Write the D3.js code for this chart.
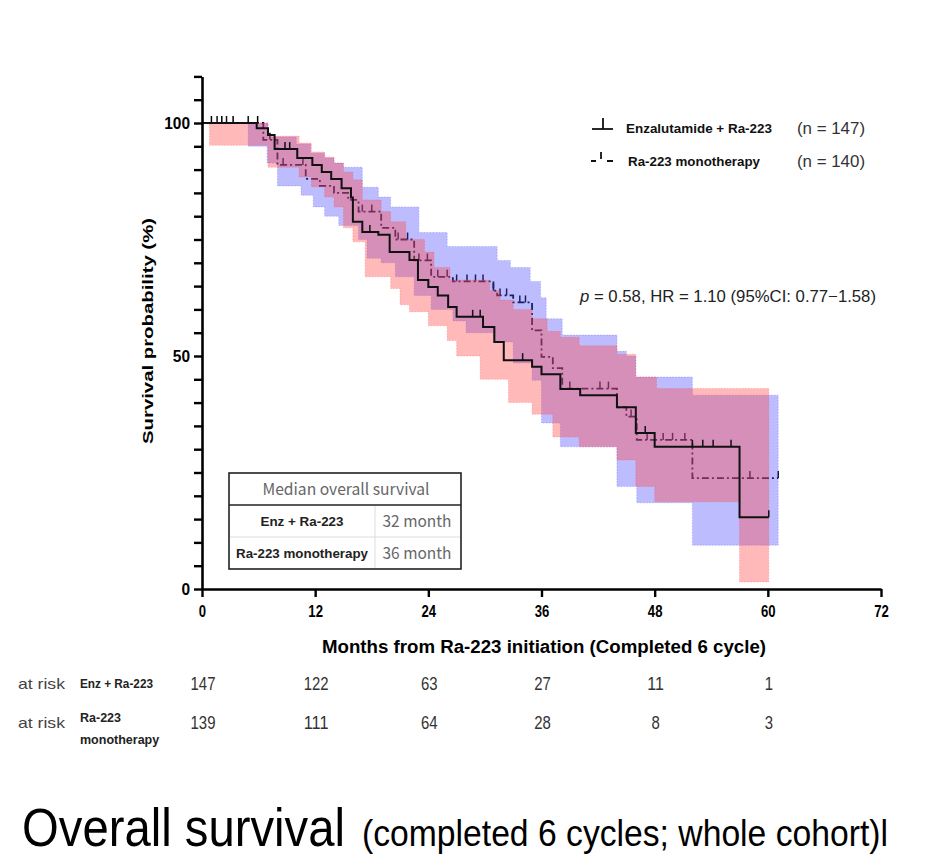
<!DOCTYPE html>
<html><head><meta charset="utf-8">
<script src="https://cdn.jsdelivr.net/npm/d3@7/dist/d3.min.js"></script>
<style>
html,body{margin:0;padding:0;background:#fff;}
svg{display:block;}
</style></head><body>
<svg id="c" width="943" height="867"></svg>
<script>
// ---------------- data ----------------
const monthTicks = [0, 12, 24, 36, 48, 60, 72];
const yLabelTicks = [0, 50, 100];
const yMinorTicks = [0,5,10,15,20,25,30,35,40,45,50,55,60,65,70,75,80,85,90,95,100,105,110];

// Kaplan-Meier steps [month, survival %]
const enzSteps = [[0,100],[5.8,98.9],[7.0,97.4],[7.7,94.4],[10.1,92.5],[11.7,91],[12.7,89.5],[13.7,88],[14.8,86],[15.8,84],[16.0,78.8],[17.0,76.6],[18.7,76],[19.9,72.3],[22.0,70.6],[22.9,66.3],[24.0,64.8],[25.0,63],[26.1,60.5],[27.0,58.4],[29.8,56.2],[31.0,53.0],[32.0,49.1],[35.0,47.7],[36.0,46.1],[38.0,42.9],[40.1,41.6],[44.0,39.0],[46.0,33.5],[48.0,30.5],[57.0,15.4],[60.1,15.4]];
const monoSteps = [[0,100],[6.5,96.4],[8.0,91],[11.0,88],[12.5,86.5],[14.0,85],[15.5,83.5],[16.6,81],[19.0,77.5],[20.5,75],[22.5,70.5],[24.3,67],[26.6,66],[30.9,64],[31.3,63],[33.0,61.5],[35.0,55.5],[36.0,49.8],[37.2,47.4],[38.2,43],[44.0,39],[45.0,37],[46.1,32],[52.0,23.8],[61.1,23.8]];

// censored observations (months)
const enzCensor = [1.6, 2.6, 4.9, 8.8, 9.3, 17.8, 28.7, 29.5, 34.0, 47.0, 52.0, 53.1, 54.2, 56.1, 60.1];
const monoCensor = [1.0, 2.1, 3.3, 5.9, 7.2, 8.6, 10.7, 17.0, 18.0, 20.8, 21.8, 23.0, 23.9, 25.0, 26.0, 27.0, 28.1, 29.0, 29.8, 30.9, 31.6, 32.3, 33.7, 34.3, 39.0, 42.2, 43.1, 45.5, 47.2, 48.9, 49.9, 51.2, 58.1, 61.1];

// 95% confidence bands [month, %]
const enzUpper = [[0.8,100],[7.0,97.2],[10.3,95.7],[11.6,93.8],[13.0,92.7],[14.0,91.4],[15.0,89.5],[16.0,87.8],[17.0,83.5],[19.0,81],[20.0,78.8],[21.6,75],[23.6,72.3],[24.6,69],[26.3,66.3],[30.5,64],[31.6,62],[33.0,60],[35.0,58],[36.6,55.3],[38.0,54],[40.0,52.2],[44.0,50.4],[46.0,45.5],[48.2,43],[60.1,43]];
const enzLower = [[0.8,95.2],[7.0,90.5],[10.3,88.4],[11.6,86.3],[13.0,84.1],[14.0,82],[15.0,77.5],[16.0,74.5],[17.3,67],[20.0,64.5],[21.0,61],[22.0,59.5],[24.0,56.5],[26.0,53.3],[27.0,50],[29.5,45],[32.5,40],[35.0,37.5],[37.2,32.6],[40.0,30.5],[44.0,27.7],[46.0,22],[48.0,18.7],[57.0,1.5],[60.1,1.5]];
const monoUpper = [[4.9,100],[7.0,97],[10.0,95.5],[11.5,93.5],[13.0,92.5],[14.0,91.4],[15.0,90.5],[17.0,86.2],[18.7,84.1],[20.0,82],[23.0,76.5],[26.0,73.5],[31.3,70.5],[32.7,69],[34.8,66],[35.9,62.5],[36.5,58],[38.2,54.5],[44.0,51],[45.0,50],[46.0,45.5],[52.0,41.6],[61.1,41.6]];
const monoLower = [[4.9,95],[6.9,91.4],[8.0,86.5],[10.5,84.5],[11.8,82],[13.0,80],[14.5,78],[16.6,75],[17.5,71],[19.0,70],[20.5,67],[22.5,63],[24.3,60],[26.6,57.5],[28.0,55],[30.9,53],[33.0,48.5],[35.0,44.8],[36.0,35.6],[38.0,30.5],[44.0,22],[46.1,18.5],[52.0,9.4],[61.1,9.4]];

const atRiskEnz = [147, 122, 63, 27, 11, 1];
const atRiskMono = [139, 111, 64, 28, 8, 3];
const legendLabels = ["Enzalutamide + Ra-223", "Ra-223 monotherapy"];
const legendN = ["(n = 147)", "(n = 140)"];
const medianHeader = "Median overall survival";
const medianGroups = ["Enz + Ra-223", "Ra-223 monotherapy"];
const medianValues = ["32 month", "36 month"];
const statText = ["p", " = 0.58, HR = 1.10 (95%CI: 0.77\u22121.58)"];
const xTitle = "Months from Ra-223 initiation (Completed 6 cycle)";
const yTitle = "Survival probability (%)";
const titleMain = "Overall survival";
const titleSub = "(completed 6 cycles; whole cohort)l";

// ---------------- drawing ----------------
const svg = d3.select("#c");
const NARROW = "'Liberation Sans Narrow','Arial Narrow','Liberation Sans',Arial,sans-serif";
const SANS = "'Liberation Sans',Arial,sans-serif";
const CJK = "'Noto Sans CJK JP','Noto Sans',sans-serif";

const x = d3.scaleLinear().domain([0, 72]).range([202, 881]);
const y = d3.scaleLinear().domain([0, 110]).range([589, 76.4]);

function stepVal(steps, t) {
  let v = steps[0][1];
  for (const [tt, vv] of steps) { if (tt <= t + 1e-9) v = vv; else break; }
  return v;
}
function band(upper, lower) {
  const times = Array.from(new Set(upper.map(d => d[0]).concat(lower.map(d => d[0])))).sort((a, b) => a - b);
  return times.map(t => ({t, hi: stepVal(upper, t), lo: stepVal(lower, t)}));
}
const area = d3.area().curve(d3.curveStepAfter).x(d => x(d.t)).y0(d => y(d.lo)).y1(d => y(d.hi));
const line = d3.line().curve(d3.curveStepAfter).x(d => x(d[0])).y(d => y(d[1]));

const plot = svg.append("g");

// dashed mono line (under the bands)
plot.append("path").datum(monoSteps).attr("d", line)
  .attr("fill", "none").attr("stroke", "#000").attr("stroke-width", 1.8)
  .attr("stroke-dasharray", "7,3,2,3");
plot.append("g").selectAll("line").data(monoCensor).join("line")
  .attr("x1", d => x(d)).attr("x2", d => x(d))
  .attr("y1", d => y(stepVal(monoSteps, d))).attr("y2", d => y(stepVal(monoSteps, d)) - 7)
  .attr("stroke", "#000").attr("stroke-width", 1.5);

// bands
plot.append("path").datum(band(monoUpper, monoLower)).attr("d", area)
  .attr("fill", "rgba(80,80,255,0.38)")
  .attr("stroke", "rgba(80,80,255,0.3)").attr("stroke-width", 1).attr("stroke-dasharray", "1.5,1.5");
plot.append("path").datum(band(enzUpper, enzLower)).attr("d", area)
  .attr("fill", "rgba(255,70,70,0.38)")
  .attr("stroke", "rgba(255,70,70,0.3)").attr("stroke-width", 1).attr("stroke-dasharray", "1.5,1.5");

// solid enz line
plot.append("path").datum(enzSteps).attr("d", line)
  .attr("fill", "none").attr("stroke", "#111").attr("stroke-width", 2);
plot.append("g").selectAll("line").data(enzCensor).join("line")
  .attr("x1", d => x(d)).attr("x2", d => x(d))
  .attr("y1", d => y(stepVal(enzSteps, d))).attr("y2", d => y(stepVal(enzSteps, d)) - 7)
  .attr("stroke", "#111").attr("stroke-width", 1.5);

// axes
const yAxis = svg.append("g").attr("transform", "translate(202,0)")
  .call(d3.axisLeft(y).tickValues(yMinorTicks).tickSize(8).tickSizeOuter(0).tickPadding(4)
    .tickFormat(d => yLabelTicks.includes(d) ? d : ""));
const xAxis = svg.append("g").attr("transform", "translate(0,589)")
  .call(d3.axisBottom(x).tickValues(monthTicks).tickSize(8).tickSizeOuter(0).tickPadding(9));
[yAxis, xAxis].forEach(a => {
  a.select(".domain").attr("stroke", "#000").attr("stroke-width", 2.6);
  a.selectAll(".tick line").attr("stroke", "#000").attr("stroke-width", 2.4);
  a.selectAll(".tick text").attr("fill", "#000").attr("font-family", NARROW)
    .attr("font-weight", "bold").attr("font-size", 16);
});
xAxis.selectAll(".tick text").each(function () {
  const n = this.textContent.length;
  d3.select(this).attr("textLength", n * 7.3).attr("lengthAdjust", "spacingAndGlyphs");
});
yAxis.selectAll(".tick text").each(function () {
  const n = this.textContent.length;
  if (n) d3.select(this).attr("textLength", n * 8.6).attr("lengthAdjust", "spacingAndGlyphs");
});

// axis titles
svg.append("text").attr("x", 544).attr("y", 653).attr("text-anchor", "middle")
  .attr("font-family", NARROW).attr("font-weight", "bold").attr("font-size", 18)
  .attr("textLength", 444).attr("lengthAdjust", "spacingAndGlyphs").text(xTitle);
svg.append("text").attr("transform", "translate(153,331) rotate(-90)").attr("text-anchor", "middle")
  .attr("font-family", SANS).attr("font-weight", "bold").attr("font-size", 15)
  .attr("textLength", 226).attr("lengthAdjust", "spacingAndGlyphs").text(yTitle);

// legend
const leg = svg.append("g");
leg.append("line").attr("x1", 592).attr("x2", 613).attr("y1", 129).attr("y2", 129).attr("stroke", "#111").attr("stroke-width", 1.8);
leg.append("line").attr("x1", 603).attr("x2", 603).attr("y1", 118).attr("y2", 129).attr("stroke", "#111").attr("stroke-width", 1.8);
leg.append("line").attr("x1", 591).attr("x2", 596).attr("y1", 161).attr("y2", 161).attr("stroke", "#111").attr("stroke-width", 2);
leg.append("line").attr("x1", 601).attr("x2", 601).attr("y1", 152).attr("y2", 159).attr("stroke", "#111").attr("stroke-width", 1.8);
leg.append("line").attr("x1", 607).attr("x2", 613).attr("y1", 161).attr("y2", 161).attr("stroke", "#111").attr("stroke-width", 2);
const legY = [133, 166];
const legW = [146, 132];
legendLabels.forEach((t, i) => {
  leg.append("text").attr("x", i === 0 ? 626 : 628).attr("y", legY[i])
    .attr("font-family", SANS).attr("font-weight", "bold").attr("font-size", 13.5).attr("fill", "#111")
    .attr("textLength", legW[i]).attr("lengthAdjust", "spacingAndGlyphs").text(t);
  leg.append("text").attr("x", 797).attr("y", legY[i] + 1)
    .attr("font-family", SANS).attr("font-size", 16).attr("fill", "#333")
    .attr("textLength", 68).attr("lengthAdjust", "spacingAndGlyphs").text(legendN[i]);
});

// stats
const st = svg.append("text").attr("x", 580).attr("y", 302)
  .attr("font-family", SANS).attr("font-size", 16.5).attr("fill", "#222")
  .attr("textLength", 296).attr("lengthAdjust", "spacingAndGlyphs");
st.append("tspan").attr("font-style", "italic").text(statText[0]);
st.append("tspan").text(statText[1]);

// median table
const tb = svg.append("g");
tb.append("rect").attr("x", 229).attr("y", 473).attr("width", 232).attr("height", 96)
  .attr("fill", "#fff").attr("stroke", "#222").attr("stroke-width", 1.6);
tb.append("line").attr("x1", 229).attr("x2", 461).attr("y1", 505).attr("y2", 505).attr("stroke", "#222").attr("stroke-width", 1.6);
tb.append("line").attr("x1", 230).attr("x2", 460).attr("y1", 537).attr("y2", 537).attr("stroke", "#ddd").attr("stroke-width", 1);
tb.append("line").attr("x1", 375).attr("x2", 375).attr("y1", 506).attr("y2", 568).attr("stroke", "#ddd").attr("stroke-width", 1);
tb.append("text").attr("x", 346).attr("y", 495).attr("text-anchor", "middle")
  .attr("font-family", CJK).attr("font-size", 16).attr("fill", "#666")
  .attr("textLength", 167).attr("lengthAdjust", "spacingAndGlyphs").text(medianHeader);
const rowY = [526, 558];
const grpW = [83, 132];
medianGroups.forEach((g, i) => {
  tb.append("text").attr("x", 302).attr("y", rowY[i]).attr("text-anchor", "middle")
    .attr("font-family", SANS).attr("font-weight", "bold").attr("font-size", 13).attr("fill", "#222")
    .attr("textLength", grpW[i]).attr("lengthAdjust", "spacingAndGlyphs").text(g);
  tb.append("text").attr("x", 417).attr("y", rowY[i] + 1).attr("text-anchor", "middle")
    .attr("font-family", CJK).attr("font-size", 16).attr("fill", "#666")
    .attr("textLength", 69).attr("lengthAdjust", "spacingAndGlyphs").text(medianValues[i]);
});

// at risk table
const ar = svg.append("g");
[[atRiskEnz, 690], [atRiskMono, 729]].forEach(([vals, yy], r) => {
  ar.append("text").attr("x", 18).attr("y", yy - 1).attr("font-family", SANS).attr("font-size", 15)
    .attr("fill", "#444").attr("textLength", 47).attr("lengthAdjust", "spacingAndGlyphs").text("at risk");
  ar.selectAll(null).data(vals).join("text")
    .attr("x", (d, i) => x(monthTicks[i]) + 1).attr("y", yy).attr("text-anchor", "middle")
    .attr("font-family", NARROW).attr("font-size", 18).attr("fill", "#333")
    .attr("textLength", d => String(d).length * 8.3).attr("lengthAdjust", "spacingAndGlyphs")
    .text(d => d);
});
ar.append("text").attr("x", 80).attr("y", 688).attr("font-family", SANS).attr("font-weight", "bold")
  .attr("font-size", 12.5).attr("fill", "#222").attr("textLength", 73).attr("lengthAdjust", "spacingAndGlyphs").text(medianGroups[0]);
ar.append("text").attr("x", 80).attr("y", 722).attr("font-family", SANS).attr("font-weight", "bold")
  .attr("font-size", 12.5).attr("fill", "#222").text("Ra-223");
ar.append("text").attr("x", 80).attr("y", 744).attr("font-family", SANS).attr("font-weight", "bold")
  .attr("font-size", 12.5).attr("fill", "#222").text("monotherapy");

// title
svg.append("text").attr("x", 22).attr("y", 846).attr("font-family", SANS).attr("font-size", 54).attr("fill", "#000")
  .attr("textLength", 323).attr("lengthAdjust", "spacingAndGlyphs").text(titleMain);
svg.append("text").attr("x", 362).attr("y", 846).attr("font-family", SANS).attr("font-size", 36).attr("fill", "#000")
  .attr("textLength", 526).attr("lengthAdjust", "spacingAndGlyphs").text(titleSub);
</script>
</body></html>
